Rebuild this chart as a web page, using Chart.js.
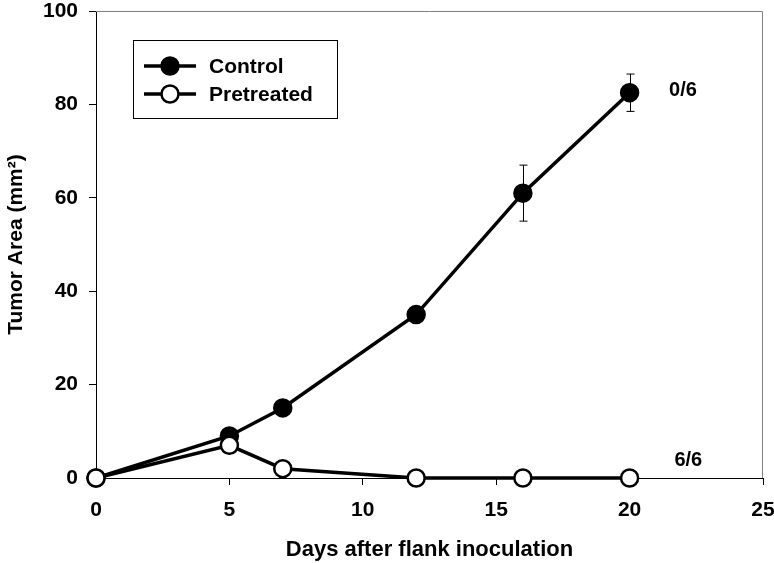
<!DOCTYPE html>
<html>
<head>
<meta charset="utf-8">
<script src="https://cdn.jsdelivr.net/npm/chart.js@4.4.0/dist/chart.umd.min.js"></script>
<style>
  body { margin: 0; background: #fff; }
  #wrap { width: 774px; height: 563px; }
</style>
</head>
<body>
<div id="wrap"><canvas id="tumorChart"></canvas></div>
<script>
const dias = [0, 5, 7, 12, 16, 20];
const control = [0, 9, 15, 35, 61, 82.5];
const controlErr = [0, 0, 0, 0, 6, 4];
const pretreated = [0, 7, 2, 0, 0, 0];
const xTicks = [0, 5, 10, 15, 20, 25];
const yTicks = [0, 20, 40, 60, 80, 100];
const fracciones = ["0/6", "6/6"];

const fuente = "'Liberation Sans', Arial, sans-serif";

// barras de error + marco gris + etiquetas 0/6, 6/6
const extras = {
  id: "extras",
  beforeDatasetsDraw(chart) {
    const { ctx, scales: { x, y } } = chart;
    ctx.save();
    ctx.strokeStyle = "#000";
    ctx.lineWidth = 1;
    dias.forEach((d, i) => {
      const e = controlErr[i];
      if (!e) return;
      const px = Math.round(x.getPixelForValue(d)) + 0.5;
      const top = y.getPixelForValue(control[i] + e);
      const bot = y.getPixelForValue(control[i] - e);
      ctx.beginPath();
      ctx.moveTo(px, top); ctx.lineTo(px, bot);
      ctx.moveTo(px - 4, top); ctx.lineTo(px + 4, top);
      ctx.moveTo(px - 4, bot); ctx.lineTo(px + 4, bot);
      ctx.stroke();
    });
    ctx.restore();
  },
  afterDraw(chart) {
    const { ctx, chartArea: a, scales: { x, y } } = chart;
    ctx.save();
    // marco superior y derecho
    ctx.strokeStyle = "#808080";
    ctx.lineWidth = 1;
    ctx.beginPath();
    ctx.moveTo(a.left, a.top + 0.5);
    ctx.lineTo(a.right - 0.5, a.top + 0.5);
    ctx.lineTo(a.right - 0.5, a.bottom);
    ctx.stroke();

    ctx.fillStyle = "#000";
    ctx.font = "bold 20px " + fuente;
    ctx.textAlign = "center";
    ctx.textBaseline = "middle";
    ctx.fillText(fracciones[0], x.getPixelForValue(22), y.getPixelForValue(83));
    ctx.fillText(fracciones[1], x.getPixelForValue(22.2), y.getPixelForValue(3.8));

    // leyenda
    const bx = 133.5, by = 40.5, bw = 204, bh = 78;
    ctx.strokeStyle = "#000";
    ctx.strokeRect(bx, by, bw, bh);
    chart.data.datasets.slice().reverse().forEach((ds, i) => {
      const ly = 66 + i * 28;
      ctx.strokeStyle = "#000";
      ctx.lineWidth = 3.5;
      ctx.beginPath();
      ctx.moveTo(144, ly); ctx.lineTo(196, ly);
      ctx.stroke();
      ctx.beginPath();
      ctx.arc(170, ly, 8.5, 0, Math.PI * 2);
      ctx.fillStyle = ds.pointBackgroundColor;
      ctx.fill();
      ctx.lineWidth = 2.5;
      ctx.stroke();
      ctx.fillStyle = "#000";
      ctx.font = "bold 21px " + fuente;
      ctx.textAlign = "left";
      ctx.fillText(ds.label, 209, ly + 1);
    });
    ctx.restore();
  }
};

new Chart(document.getElementById("tumorChart"), {
  type: "line",
  data: {
    datasets: [
      {
        label: "Pretreated",
        data: dias.map((d, i) => ({ x: d, y: pretreated[i] })),
        borderColor: "#000",
        borderWidth: 3.5,
        pointBackgroundColor: "#fff",
        pointBorderColor: "#000",
        pointBorderWidth: 2.5,
        pointRadius: 8.5,
        clip: false,
        order: 0
      },
      {
        label: "Control",
        data: dias.map((d, i) => ({ x: d, y: control[i] })),
        borderColor: "#000",
        borderWidth: 3.5,
        pointBackgroundColor: "#000",
        pointBorderColor: "#000",
        pointBorderWidth: 2.5,
        pointRadius: 8.5,
        clip: false,
        order: 1
      }
    ]
  },
  options: {
    responsive: true,
    maintainAspectRatio: false,
    animation: false,
    layout: { padding: { top: 8, right: 11, left: 0, bottom: 0 } },
    plugins: {
      legend: { display: false },
      tooltip: { enabled: false }
    },
    scales: {
      x: {
        type: "linear",
        min: 0,
        max: 25,
        afterFit(s) { s.height = 85; s.paddingLeft = 0; s.paddingRight = 0; },
        afterBuildTicks(s) { s.ticks = xTicks.map(v => ({ value: v })); },
        ticks: { color: "#000", font: { family: fuente, size: 21, weight: "bold" }, padding: 13 },
        grid: { drawOnChartArea: false, tickLength: 7, color: "#000" },
        border: { color: "#000", width: 1 },
        title: {
          display: true,
          text: "Days after flank inoculation",
          color: "#000",
          font: { family: fuente, size: 22, weight: "bold" },
          padding: { top: 0, bottom: 0 }
        }
      },
      y: {
        min: 0,
        max: 100,
        afterFit(s) { s.width = 96; s.paddingTop = 0; s.paddingBottom = 0; },
        afterBuildTicks(s) { s.ticks = yTicks.map(v => ({ value: v })); },
        ticks: { color: "#000", font: { family: fuente, size: 21, weight: "bold" }, padding: 11 },
        grid: { drawOnChartArea: false, tickLength: 7, color: "#000" },
        border: { color: "#000", width: 1 },
        title: {
          display: true,
          text: "Tumor Area (mm²)",
          color: "#000",
          font: { family: fuente, size: 21, weight: "bold" },
          padding: { top: 4, bottom: 0 }
        }
      }
    }
  },
  plugins: [extras]
});
</script>
</body>
</html>
